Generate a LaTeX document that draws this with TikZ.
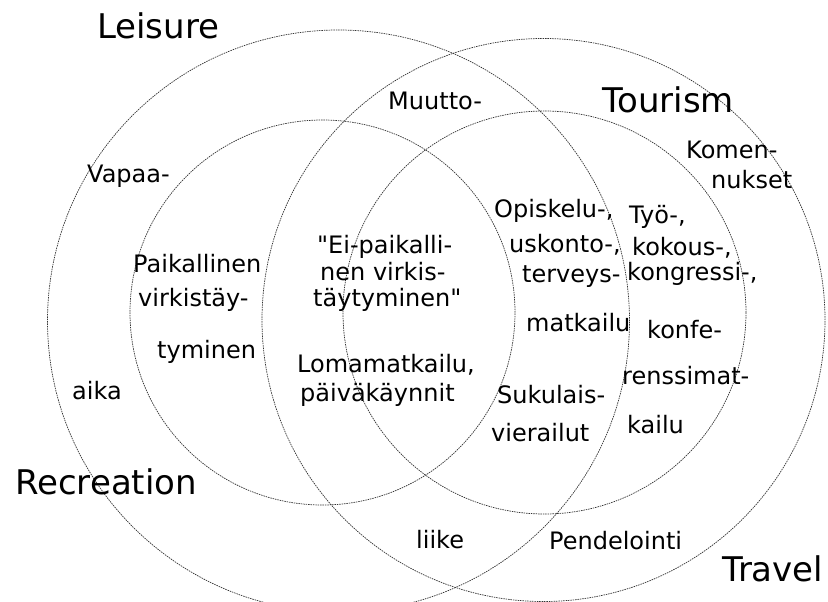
\documentclass[tikz,border=0pt]{standalone}
\usepackage{fontspec}
\setmainfont{DejaVu Sans}[Ligatures=TeXOff]
\begin{document}
\begin{tikzpicture}[x=1pt,y=-1pt,
  ring/.style={draw=black!80, line width=0.7pt, dash pattern=on 1.5pt off 0.9pt},
  big/.style={font=\fontsize{34}{40}\selectfont, anchor=base west, inner sep=0pt},
  small/.style={font=\fontsize{24}{28}\selectfont, anchor=base west, inner sep=0pt}]
\fill[white] (0,0) rectangle (828,602);
\useasboundingbox (0,0) rectangle (828,602);
\begin{scope}
  \clip (0,0) rectangle (828,602);
  \draw[ring] (338.5,321) circle[radius=291pt];   % Leisure
  \draw[ring] (543.5,320) circle[radius=281.5pt]; % Travel
  \draw[ring] (322.5,312.5) circle[radius=192.5pt]; % Recreation
  \draw[ring] (544.5,312.5) circle[radius=201.5pt]; % Tourism
\end{scope}
% large labels
\node[big] (leisure) at (97,39) {Leisure};
\node[big] (tourism) at (602,113) {Tourism};
\node[big] (recreation) at (15,494) {Recreation};
\node[big] (travel) at (722,581) {Travel};
% small texts
\node[small] (muutto) at (388,110) {Muutto-};
\node[small] (vapaa) at (87,182) {Vapaa-};
\node[small] (komen) at (686,158) {Komen-};
\node[small] (nukset) at (711,188) {nukset};
\node[small] (paik1) at (133,272) {Paikallinen};
\node[small] (paik2) at (138,306) {virkistäy-};
\node[small] (paik3) at (157,358) {tyminen};
\node[small] (aika) at (72,399) {aika};
\node[small] (ei1) at (317,253) {"Ei-paikalli-};
\node[small] (ei2) at (320,280) {nen virkis-};
\node[small] (ei3) at (313,306) {täytyminen"};
\node[small] (loma1) at (297,372) {Lomamatkailu,};
\node[small] (loma2) at (300,401) {päiväkäynnit};
\node[small] (op1) at (494,217) {Opiskelu-,};
\node[small] (op2) at (509,252) {uskonto-,};
\node[small] (op3) at (522,282) {terveys-};
\node[small] (op4) at (526,331) {matkailu};
\node[small] (suku1) at (497,403) {Sukulais-};
\node[small] (suku2) at (491,441) {vierailut};
\node[small] (tyo1) at (629,223) {Työ-,};
\node[small] (tyo2) at (632,255) {kokous-,};
\node[small] (tyo3) at (627,280) {kongressi-,};
\node[small] (tyo4) at (647,338) {konfe-};
\node[small] (tyo5) at (622,384) {renssimat-};
\node[small] (tyo6) at (627,433) {kailu};
\node[small] (liike) at (416,548) {liike};
\node[small] (pendel) at (549,549) {Pendelointi};
\end{tikzpicture}
\end{document}
